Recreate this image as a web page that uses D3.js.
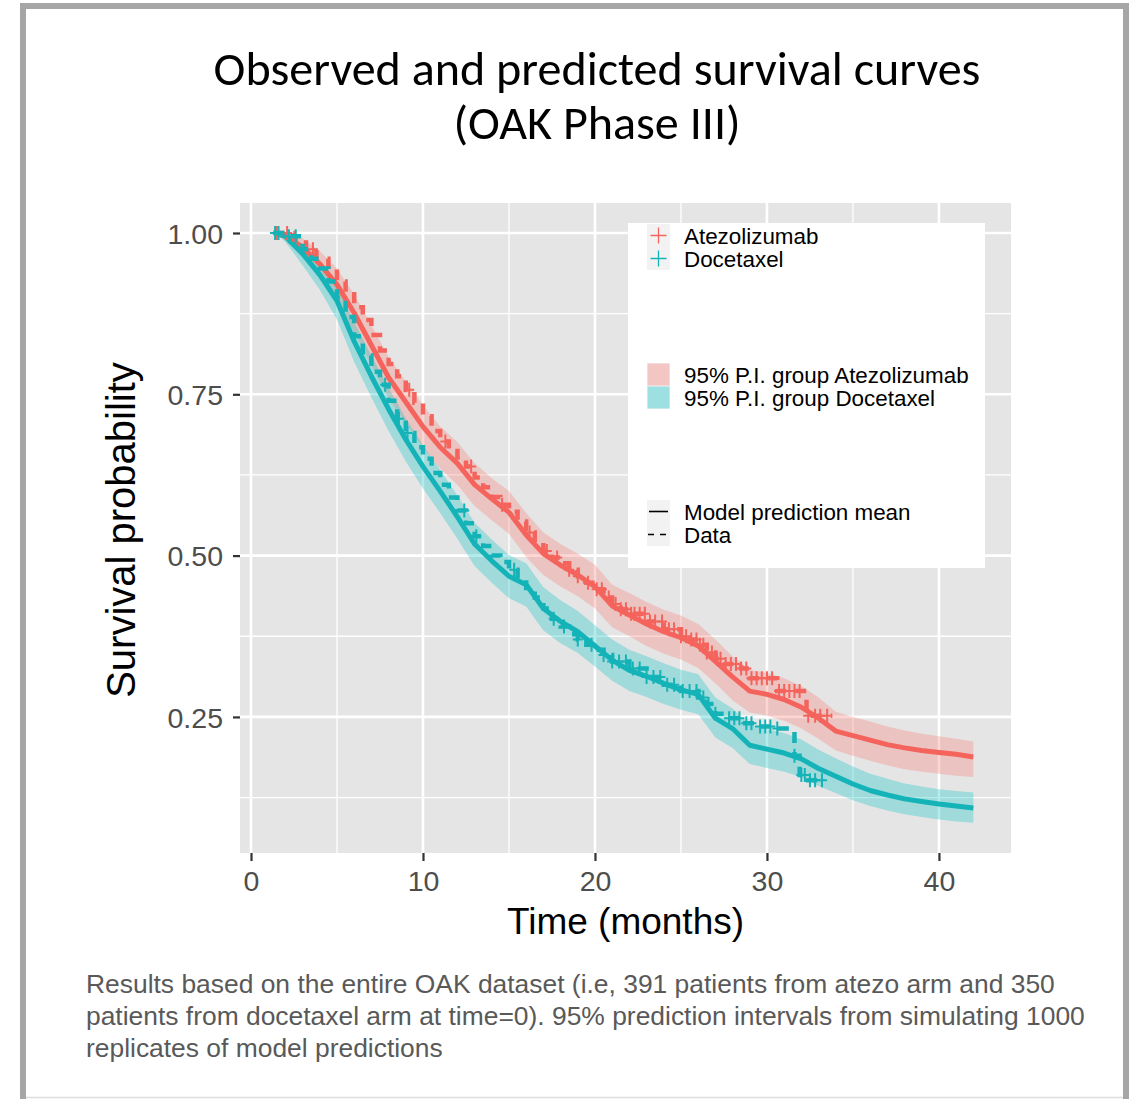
<!DOCTYPE html>
<html><head><meta charset="utf-8">
<script src="https://cdn.jsdelivr.net/npm/d3@7"></script>
<style>body{margin:0;background:#fff}svg{display:block}</style>
</head><body>
<svg id="c" width="1129" height="1099"></svg>
<script>
// ---------------- data ----------------
const timeGrid = [1.4,2,3,4,5,6,7,8,9,10,11,12,13,14,15,16,17,18,19,20,21,22,23,24,25,26,27,28,29,30,31,32,33,34,35,36,37,38,39,40,41,42];
const atezoMean  = [1.000,0.995,0.978,0.952,0.920,0.876,0.826,0.776,0.738,0.700,0.668,0.643,0.610,0.588,0.567,0.532,0.503,0.485,0.470,0.452,0.422,0.408,0.394,0.382,0.373,0.360,0.336,0.312,0.290,0.285,0.277,0.265,0.248,0.228,0.221,0.214,0.207,0.202,0.198,0.195,0.192,0.188];
const atezoUpper = [1.000,1.000,0.992,0.972,0.945,0.905,0.857,0.808,0.770,0.733,0.700,0.676,0.643,0.620,0.600,0.566,0.536,0.518,0.503,0.486,0.455,0.442,0.428,0.416,0.407,0.394,0.370,0.344,0.323,0.318,0.310,0.298,0.280,0.258,0.250,0.243,0.235,0.229,0.224,0.220,0.216,0.212];
const atezoLower = [1.000,0.988,0.962,0.930,0.893,0.846,0.795,0.744,0.705,0.667,0.635,0.610,0.577,0.555,0.534,0.498,0.470,0.452,0.437,0.418,0.389,0.375,0.360,0.348,0.339,0.326,0.302,0.276,0.257,0.252,0.244,0.232,0.216,0.198,0.190,0.182,0.175,0.169,0.165,0.162,0.159,0.157];
const doceMean   = [1.000,0.995,0.968,0.935,0.895,0.832,0.778,0.727,0.680,0.638,0.600,0.560,0.518,0.492,0.468,0.455,0.418,0.398,0.382,0.360,0.338,0.322,0.313,0.302,0.292,0.285,0.248,0.232,0.206,0.200,0.194,0.185,0.170,0.158,0.146,0.136,0.129,0.123,0.119,0.115,0.112,0.109];
const doceUpper  = [1.000,1.000,0.982,0.955,0.920,0.862,0.810,0.760,0.713,0.671,0.633,0.593,0.551,0.525,0.501,0.488,0.451,0.431,0.414,0.392,0.370,0.354,0.344,0.333,0.323,0.316,0.280,0.263,0.238,0.231,0.225,0.215,0.199,0.186,0.173,0.162,0.154,0.147,0.142,0.138,0.135,0.133];
const doceLower  = [1.000,0.986,0.950,0.912,0.866,0.800,0.745,0.693,0.646,0.604,0.566,0.526,0.484,0.458,0.434,0.421,0.384,0.364,0.349,0.328,0.306,0.290,0.281,0.270,0.261,0.254,0.218,0.202,0.177,0.171,0.165,0.157,0.143,0.132,0.121,0.112,0.105,0.099,0.095,0.091,0.088,0.086];

// Kaplan-Meier observed data (step functions)
const atezoKMTime = [1.3,2.5,3.2,3.8,4.5,5.0,5.5,6.0,6.5,7.0,7.5,8.0,8.5,9.0,9.5,10.0,10.5,11.0,11.5,12.0,12.5,13.0,13.5,14.0,14.5,15.0,15.5,16.0,16.5,17.0,17.5,18.0,18.5,19.0,19.5,20.0,20.5,21.0,21.5,22.0,23.0,24.0,25.0,25.5,26.0,26.5,27.0,27.5,28.5,29.0,30.6,32.3,33.8];
const atezoKMSurv = [1.000,0.990,0.975,0.960,0.940,0.925,0.905,0.885,0.865,0.842,0.818,0.797,0.778,0.757,0.737,0.716,0.693,0.677,0.662,0.652,0.638,0.621,0.606,0.591,0.579,0.568,0.553,0.536,0.521,0.507,0.497,0.488,0.478,0.468,0.458,0.448,0.435,0.425,0.417,0.410,0.398,0.386,0.375,0.370,0.362,0.350,0.340,0.332,0.325,0.310,0.290,0.252,0.252];
const doceKMTime = [1.3,2.0,3.0,3.5,4.0,4.5,5.0,5.5,6.0,6.5,7.0,7.5,8.0,8.5,9.0,9.5,10.0,10.5,11.0,11.5,12.0,12.5,13.0,13.5,14.0,14.5,15.0,15.5,16.0,16.5,17.0,17.5,18.0,18.5,19.0,19.5,20.0,20.5,21.0,22.0,23.0,24.0,25.0,26.0,26.5,27.0,27.5,28.5,29.5,30.5,31.6,31.9,32.4,33.3];
const doceKMSurv = [1.000,0.995,0.975,0.960,0.945,0.925,0.900,0.870,0.840,0.810,0.785,0.765,0.740,0.712,0.690,0.668,0.650,0.628,0.610,0.590,0.570,0.550,0.530,0.515,0.500,0.490,0.478,0.465,0.450,0.435,0.418,0.402,0.390,0.378,0.370,0.362,0.354,0.346,0.336,0.325,0.312,0.300,0.290,0.280,0.270,0.255,0.248,0.240,0.235,0.232,0.190,0.160,0.152,0.152];

const atezoCensor = [1.5,2.1,3.6,9.2,11.3,12.8,14.6,16.2,17.2,17.8,18.5,19.0,19.6,20.1,20.4,20.8,21.2,21.5,21.8,22.1,22.3,22.6,22.9,23.2,23.5,23.9,24.3,24.6,25.0,25.3,25.6,25.9,26.1,26.3,26.5,26.8,27.1,27.3,27.6,27.9,28.2,28.5,28.8,29.1,29.4,29.7,30.0,30.3,30.7,31.0,31.3,31.6,31.9,32.4,32.8,33.1,33.5];
const doceCensor = [1.4,1.6,2.2,2.6,7.8,8.6,9.1,12.4,13.1,15.3,17.6,18.2,19.0,19.8,20.5,21.0,21.4,21.8,22.2,22.6,23.0,23.4,23.8,24.2,24.6,25.1,25.5,25.9,26.3,26.6,27.0,27.8,28.1,28.4,28.8,29.1,29.6,29.9,30.2,30.6,31.6,32.0,32.2,32.5,32.8,33.2];

const yTicks = [0.25,0.50,0.75,1.00];
const xTicks = [0,10,20,30,40];
const yMinor = [0.125,0.375,0.625,0.875];
const xMinor = [5,15,25,35];

const armNames = ["Atezolizumab","Docetaxel"];
const bandNames = ["95% P.I. group Atezolizumab","95% P.I. group Docetaxel"];
const lineNames = ["Model prediction mean","Data"];
const titleLines = ["Observed and predicted survival curves","(OAK Phase III)"];
const captionLines = [
  "Results based on the entire OAK dataset (i.e, 391 patients from atezo arm and 350",
  "patients from docetaxel arm at time=0). 95% prediction intervals from simulating 1000",
  "replicates of model predictions"];

const RED = "#F4645D", TEAL = "#14B3B8";
const RED_FILL = "#F8766D", TEAL_FILL = "#00BFC4";

// ---------------- drawing ----------------
const svg = d3.select("#c");
// frame (left, top, right thick grey; faint bottom)
const frame = svg.append("g").attr("stroke","#a6a6a6").attr("stroke-width",6);
frame.append("line").attr("x1",23).attr("x2",23).attr("y1",3).attr("y2",1099);
frame.append("line").attr("x1",20).attr("x2",1129).attr("y1",6).attr("y2",6);
frame.append("line").attr("x1",1126).attr("x2",1126).attr("y1",3).attr("y2",1099);
svg.append("line").attr("x1",26).attr("x2",1123).attr("y1",1097.5).attr("y2",1097.5).attr("stroke","#dcdcdc").attr("stroke-width",1.5);

const P = {l:240, r:1011, t:203, b:853};
const x = d3.scaleLinear().domain([-0.64, 44.19]).range([P.l, P.r]);
const y = d3.scaleLinear().domain([0.0391, 1.0465]).range([P.b, P.t]);

svg.append("rect").attr("x",P.l).attr("y",P.t).attr("width",P.r-P.l).attr("height",P.b-P.t).attr("fill","#E5E5E5");
const grid = svg.append("g");
xMinor.forEach(v=>grid.append("line").attr("x1",x(v)).attr("x2",x(v)).attr("y1",P.t).attr("y2",P.b).attr("stroke","#fff").attr("stroke-width",1.3));
yMinor.forEach(v=>grid.append("line").attr("y1",y(v)).attr("y2",y(v)).attr("x1",P.l).attr("x2",P.r).attr("stroke","#fff").attr("stroke-width",1.3));
xTicks.forEach(v=>grid.append("line").attr("x1",x(v)).attr("x2",x(v)).attr("y1",P.t).attr("y2",P.b).attr("stroke","#fff").attr("stroke-width",2.6));
yTicks.forEach(v=>grid.append("line").attr("y1",y(v)).attr("y2",y(v)).attr("x1",P.l).attr("x2",P.r).attr("stroke","#fff").attr("stroke-width",2.6));

svg.append("clipPath").attr("id","clip").append("rect").attr("x",P.l).attr("y",P.t).attr("width",P.r-P.l).attr("height",P.b-P.t);
const plot = svg.append("g").attr("clip-path","url(#clip)");

const arms = [
  {mean:atezoMean, lo:atezoLower, hi:atezoUpper, kmT:atezoKMTime, kmS:atezoKMSurv, cens:atezoCensor, line:RED, fill:RED_FILL},
  {mean:doceMean, lo:doceLower, hi:doceUpper, kmT:doceKMTime, kmS:doceKMSurv, cens:doceCensor, line:TEAL, fill:TEAL_FILL}
];

const area = d3.area().x(d=>x(d.t)).y0(d=>y(d.lo)).y1(d=>y(d.hi));
const line = d3.line().x(d=>x(d.t)).y(d=>y(d.s));
const stepLine = d3.line().x(d=>x(d.t)).y(d=>y(d.s)).curve(d3.curveStepAfter);

arms.forEach(a=>{
  const pts = timeGrid.map((t,i)=>({t, lo:a.lo[i], hi:a.hi[i]}));
  plot.append("path").attr("d",area(pts)).attr("fill",a.fill).attr("fill-opacity",0.3);
});
arms.forEach(a=>{
  const pts = timeGrid.map((t,i)=>({t, s:a.mean[i]}));
  plot.append("path").attr("d",line(pts)).attr("fill","none").attr("stroke",a.line).attr("stroke-width",5).attr("stroke-linejoin","round");
});
arms.forEach(a=>{
  const pts = a.kmT.map((t,i)=>({t, s:a.kmS[i]}));
  plot.append("path").attr("d",stepLine(pts)).attr("fill","none").attr("stroke",a.line).attr("stroke-width",4.5).attr("stroke-dasharray","11,9");
  const survAt = t => { let s = a.kmS[0]; a.kmT.forEach((tt,i)=>{ if (tt<=t) s=a.kmS[i]; }); return s; };
  a.cens.forEach(t=>{
    const cx = x(t), cy = y(survAt(t));
    plot.append("path").attr("d",`M${cx-5},${cy}H${cx+5}M${cx},${cy-7}V${cy+7}`).attr("stroke",a.line).attr("stroke-width",2).attr("fill","none");
  });
});

// axes
const FONT = "'Liberation Sans',Arial,sans-serif";
const yAxis = svg.append("g").attr("transform",`translate(${P.l},0)`)
  .call(d3.axisLeft(y).tickValues(yTicks).tickFormat(d3.format(".2f")).tickSize(7).tickPadding(10));
const xAxis = svg.append("g").attr("transform",`translate(0,${P.b})`)
  .call(d3.axisBottom(x).tickValues(xTicks).tickFormat(d3.format("d")).tickSize(8).tickPadding(10));
[yAxis,xAxis].forEach(g=>{
  g.select(".domain").remove();
  g.selectAll(".tick line").attr("stroke","#333").attr("stroke-width",2.2);
  g.selectAll(".tick text").attr("fill","#4D4D4D").attr("font-size",28.5).attr("font-family",FONT);
});
yAxis.selectAll(".tick text").attr("dy","0.36em");

svg.append("text").attr("x",(P.l+P.r)/2).attr("y",934).attr("text-anchor","middle")
  .attr("font-family",FONT).attr("font-size",37).attr("fill","#000").text("Time (months)");
svg.append("text").attr("transform",`translate(135,${(P.t+P.b)/2+2}) rotate(-90)`).attr("text-anchor","middle")
  .attr("font-family",FONT).attr("font-size",40).attr("fill","#000").text("Survival probability");

// legend
const lg = svg.append("g");
lg.append("rect").attr("x",628).attr("y",223).attr("width",357).attr("height",345).attr("fill","#fff");
const keyX = 647, keyW = 23, textX = 684;
const addText = (t,cy)=>lg.append("text").attr("x",textX).attr("y",cy).attr("dy","0.36em").attr("font-family",FONT).attr("font-size",22.4).attr("fill","#000").text(t);
// arm keys
[224,247].forEach((ky,i)=>{
  lg.append("rect").attr("x",keyX).attr("y",ky).attr("width",keyW).attr("height",23).attr("fill","#F2F2F2");
  const cx = keyX+keyW/2, cy = ky+11.5, c = arms[i].line;
  lg.append("path").attr("d",`M${cx-8},${cy}H${cx+8}M${cx},${cy-8}V${cy+8}`).attr("stroke",c).attr("stroke-width",1.3);
  addText(armNames[i], cy);
});
// band keys
[363,386].forEach((ky,i)=>{
  lg.append("rect").attr("x",keyX).attr("y",ky).attr("width",keyW).attr("height",23).attr("fill","#F2F2F2");
  lg.append("rect").attr("x",keyX+0.5).attr("y",ky+0.5).attr("width",keyW-1).attr("height",22).attr("fill",arms[i].fill).attr("fill-opacity",0.35);
  addText(bandNames[i], ky+11.5);
});
// line-type keys
[500,523].forEach((ky,i)=>{
  lg.append("rect").attr("x",keyX).attr("y",ky).attr("width",keyW).attr("height",23).attr("fill","#F2F2F2");
  const l = lg.append("line").attr("x1",keyX+2).attr("x2",keyX+keyW-2).attr("y1",ky+11.5).attr("y2",ky+11.5).attr("stroke","#000").attr("stroke-width",1.6);
  if (i===1) l.attr("stroke-dasharray","6,6").attr("x1",keyX+1);
  addText(lineNames[i], ky+11.5);
});

// title
const fit = (sel, target) => { const w = sel.node().getComputedTextLength(); sel.attr("font-size", parseFloat(sel.attr("font-size"))*target/w); return parseFloat(sel.attr("font-size")); };
const TFONT = "Carlito, Calibri, Lato, 'Open Sans', sans-serif";
const t1 = svg.append("text").attr("x",597).attr("y",85).attr("text-anchor","middle").attr("font-family",TFONT).attr("font-size",44).attr("fill","#000").text(titleLines[0]);
const tfs = fit(t1, 767);
svg.append("text").attr("x",597).attr("y",139).attr("text-anchor","middle").attr("font-family",TFONT).attr("font-size",tfs).attr("fill","#000").text(titleLines[1]);

// caption
const c1 = svg.append("text").attr("x",86).attr("y",993).attr("font-family",FONT).attr("font-size",22).attr("fill","#595959").text(captionLines[0]);
const cfs = fit(c1, 969);
captionLines.slice(1).forEach((s,i)=>svg.append("text").attr("x",86).attr("y",1025+32*i).attr("font-family",FONT).attr("font-size",cfs).attr("fill","#595959").text(s));
</script>
</body></html>
